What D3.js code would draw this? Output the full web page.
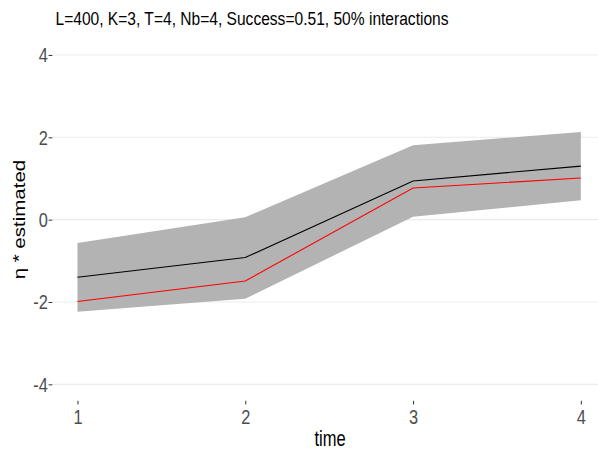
<!DOCTYPE html>
<html>
<head>
  <meta charset="UTF-8">
  <style>
    body { margin: 0; background: #fff; }
    text { font-family: "Liberation Sans", Arial, sans-serif; }
  </style>
</head>
<body>
<svg></svg>
<script src="https://d3js.org/d3.v7.min.js"></script>
<script>
let width = 598,
    height = 450;

let svg = d3.select("svg")
    .attr("width", width)
    .attr("height", height);

// data
let times = [1, 2, 3, 4];
let estimated = [-1.40, -0.92, 0.94, 1.30];
let truth = [-1.99, -1.49, 0.77, 1.01];
let lower = [-2.24, -1.92, 0.07, 0.47];
let upper = [-0.57, 0.06, 1.81, 2.13];
let yTicks = [-4, -2, 0, 2, 4];

let x = d3.scaleLinear().domain([0.85, 4.15]).range([52.3, 606]);
let y = d3.scaleLinear().domain([-4.4, 4.4]).range([400.8, 38.5]);

let rows = times.map((t, i) => ({t: t, est: estimated[i], tru: truth[i], lo: lower[i], hi: upper[i]}));

// grid
svg.append("g")
  .selectAll("line")
  .data(yTicks)
  .enter()
  .append("line")
    .attr("x1", x.range()[0])
    .attr("x2", width)
    .attr("y1", d => y(d))
    .attr("y2", d => y(d))
    .attr("stroke", "#ebebeb")
    .attr("stroke-width", 1.1);

// ribbon
svg.append("path")
  .datum(rows)
  .attr("fill", "#b3b3b3")
  .attr("d", d3.area().x(d => x(d.t)).y0(d => y(d.lo)).y1(d => y(d.hi)));

let line = key => d3.line().x(d => x(d.t)).y(d => y(d[key]));

svg.append("path")
  .datum(rows)
  .attr("fill", "none")
  .attr("stroke", "black")
  .attr("stroke-width", 1.1)
  .attr("d", line("est"));

svg.append("path")
  .datum(rows)
  .attr("fill", "none")
  .attr("stroke", "red")
  .attr("stroke-width", 1.1)
  .attr("d", line("tru"));

// axes (text in the picture is squeezed sideways)
let tickSqueeze = 0.78;

let yAxis = svg.append("g")
  .attr("transform", "translate(" + x.range()[0] + ",0)")
  .call(d3.axisLeft(y).tickValues(yTicks).tickSize(3.7).tickFormat(d => String(d)));

let xAxis = svg.append("g")
  .attr("transform", "translate(0,400.8)")
  .call(d3.axisBottom(x).tickValues(times).tickSize(3.7).tickPadding(4.5).tickFormat(d => String(d)));

[yAxis, xAxis].forEach(a => {
  a.select(".domain").remove();
  a.selectAll(".tick line").attr("stroke", "#333333");
  a.selectAll(".tick text")
    .attr("fill", "#4d4d4d")
    .style("font-size", "21px")
    .attr("transform", "scale(" + tickSqueeze + ",1)");
});
yAxis.selectAll(".tick text").attr("x", -5.8);

// labels
svg.append("text")
  .attr("transform", "translate(55.5,25) scale(0.82,1)")
  .style("font-size", "19px")
  .attr("fill", "#000")
  .text("L=400, K=3, T=4, Nb=4, Success=0.51, 50% interactions");

svg.append("text")
  .attr("transform", "translate(330,445.7) scale(0.75,1)")
  .attr("text-anchor", "middle")
  .style("font-size", "22px")
  .text("time");

svg.append("text")
  .attr("transform", "translate(25,219.6) rotate(-90) scale(1,0.8)")
  .attr("text-anchor", "middle")
  .style("font-size", "20.5px")
  .text("η * estimated");
</script>
</body>
</html>
